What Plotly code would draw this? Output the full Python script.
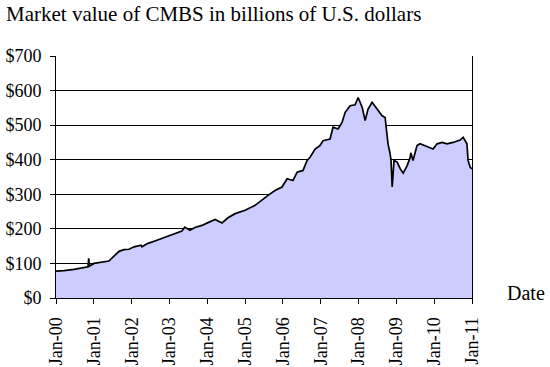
import plotly.graph_objects as go

dates = [
    "2000-01-01", "2000-03-18", "2000-06-23", "2000-09-27", "2000-11-05", "2000-11-12", "2000-11-19",
    "2001-01-02", "2001-04-08", "2001-05-26", "2001-07-14", "2001-09-01", "2001-10-19", "2001-12-06",
    "2002-01-24", "2002-04-01", "2002-04-10", "2002-06-07", "2002-08-13", "2002-10-20", "2002-12-18",
    "2003-02-23", "2003-05-01", "2003-05-29", "2003-07-17", "2003-09-04", "2003-11-10",
    "2004-01-08", "2004-03-16", "2004-05-22", "2004-07-19", "2004-09-26",
    "2005-01-01", "2005-04-07", "2005-06-13", "2005-08-10", "2005-10-16", "2005-12-23",
    "2006-02-10", "2006-04-08", "2006-05-18", "2006-07-14", "2006-08-22", "2006-09-20", "2006-11-07", "2006-12-25",
    "2007-01-23", "2007-04-01", "2007-04-30", "2007-06-17", "2007-07-26", "2007-08-25", "2007-10-12", "2007-11-29", "2007-12-28",
    "2008-02-06", "2008-03-05", "2008-04-01", "2008-05-11", "2008-06-28", "2008-07-28", "2008-08-16", "2008-09-14",
    "2008-10-03", "2008-10-12", "2008-11-01", "2008-11-10", "2008-11-21", "2008-12-01", "2008-12-09",
    "2009-01-08", "2009-02-06", "2009-03-07", "2009-04-15", "2009-05-14", "2009-05-20", "2009-06-10",
    "2009-07-19", "2009-08-17", "2009-10-05", "2009-11-22", "2009-12-21",
    "2010-01-29", "2010-03-18", "2010-05-05", "2010-07-02", "2010-09-08", "2010-10-08", "2010-11-13",
    "2010-11-24", "2010-12-14", "2011-01-01",
]
values = [
    78, 79, 83, 87, 90, 115, 92,
    100, 105, 107, 121, 135, 140, 141,
    148, 153, 148, 158, 165, 172, 179,
    186, 194, 205, 196, 204, 210,
    218, 227, 217, 232, 244,
    254, 268, 284, 297, 311, 321,
    345, 340, 364, 369, 398, 407, 431, 441,
    455, 460, 494, 489, 508, 537, 556, 559, 580,
    551, 513, 546, 566, 546, 537, 527, 522,
    474, 446, 417, 398, 321, 380, 398,
    393, 374, 361, 383, 407, 420, 398,
    441, 446, 441, 434, 431,
    446, 450, 446, 450, 457, 465, 446,
    398, 378, 374,
]

x_tick_vals = [f"{y}-01-01" for y in range(2000, 2012)]
x_tick_text = ["Jan-00", "Jan-01", "Jan-02", "Jan-03", "Jan-04", "Jan-05",
               "Jan-06", "Jan-07", "Jan-08", "Jan-09", "Jan-10", "Jan-11"]
y_tick_vals = [0, 100, 200, 300, 400, 500, 600, 700]
y_tick_text = ["$0", "$100", "$200", "$300", "$400", "$500", "$600", "$700"]

FONT = "Liberation Serif, Times New Roman, serif"

fig = go.Figure()
fig.add_trace(go.Scatter(
    x=dates, y=values, mode="lines",
    line=dict(color="black", width=1.7),
    fill="tozeroy", fillcolor="#CCCCFF",
    hoverinfo="x+y", showlegend=False,
))

fig.update_layout(
    width=550, height=367,
    margin=dict(l=56, r=78, t=56, b=69, autoexpand=False),
    paper_bgcolor="white", plot_bgcolor="white",
    font=dict(family=FONT, color="black", size=18),
    title=dict(text="Market value of CMBS in billions of U.S. dollars",
               x=0.011, xanchor="left", y=0.982, yanchor="top",
               font=dict(family=FONT, size=21, color="black")),
    xaxis=dict(
        type="date", range=["2000-01-01", "2011-01-01"],
        tickmode="array", tickvals=x_tick_vals, ticktext=x_tick_text,
        tickangle=-90, ticks="outside", ticklen=5, tickcolor="black",
        ticklabelstandoff=6,
        showline=True, linecolor="black", linewidth=1,
        showgrid=False, zeroline=False, automargin=False,
        tickfont=dict(family=FONT, size=18, color="black"),
    ),
    yaxis=dict(
        range=[0, 700],
        tickmode="array", tickvals=y_tick_vals, ticktext=y_tick_text,
        ticks="outside", ticklen=5, tickcolor="black",
        ticklabelstandoff=5, automargin=False,
        showline=True, linecolor="black", linewidth=1, mirror=True,
        showgrid=True, gridcolor="black", gridwidth=1,
        zeroline=False,
        tickfont=dict(family=FONT, size=18, color="black"),
    ),
    annotations=[dict(text="Date", x=1.079, xref="paper", y=0.02, yref="paper",
                      xanchor="left", yanchor="middle", showarrow=False,
                      font=dict(family=FONT, size=20, color="black"))],
)

fig.write_html("out.html", config={"displayModeBar": False},
               post_script="document.body.style.margin='0';")
